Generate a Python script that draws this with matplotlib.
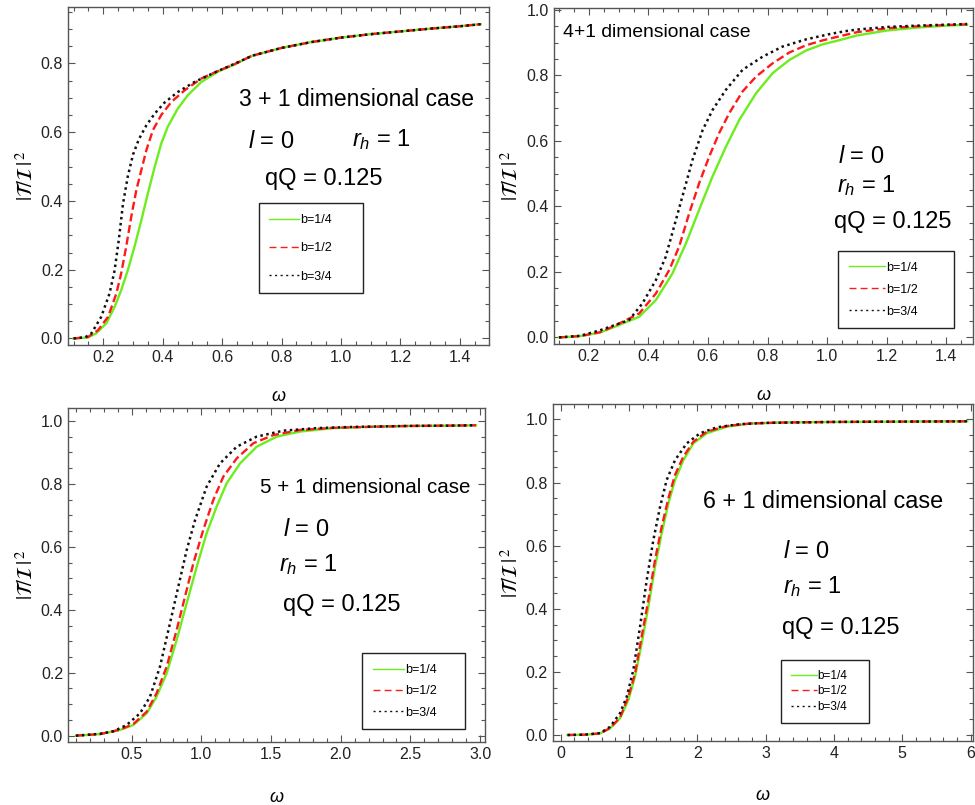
import matplotlib
matplotlib.use('Agg')
import matplotlib.pyplot as plt
from matplotlib.lines import Line2D
from matplotlib.ticker import MultipleLocator

plt.rcParams['font.family'] = ['Liberation Sans', 'DejaVu Sans']
plt.rcParams['mathtext.fontset'] = 'custom'
plt.rcParams['mathtext.rm'] = 'Liberation Sans'
plt.rcParams['mathtext.it'] = 'Liberation Sans:italic'

labels = ['b=1/4', 'b=1/2', 'b=3/4']

# 3+1 dimensions
w3_b14 = [0.10, 0.148, 0.176, 0.210, 0.238, 0.260, 0.283, 0.305, 0.328, 0.350, 0.373, 0.395, 0.417,
          0.451, 0.485, 0.530, 0.586, 0.642, 0.70, 0.80, 0.90, 1.00, 1.10, 1.20, 1.30, 1.40, 1.47]
t3_b14 = [0.0, 0.003, 0.015, 0.044, 0.092, 0.140, 0.200, 0.267, 0.344, 0.422, 0.499, 0.567, 0.616,
          0.669, 0.708, 0.746, 0.776, 0.797, 0.822, 0.845, 0.862, 0.875, 0.885, 0.893, 0.901, 0.908, 0.914]
w3_b12 = [0.10, 0.148, 0.182, 0.216, 0.244, 0.260, 0.277, 0.294, 0.311, 0.328, 0.345, 0.367, 0.395,
          0.429, 0.474, 0.530, 0.586, 0.642, 0.70, 0.80, 0.90, 1.00, 1.10, 1.20, 1.30, 1.40, 1.47]
t3_b12 = [0.0, 0.004, 0.024, 0.063, 0.131, 0.189, 0.267, 0.354, 0.431, 0.490, 0.548, 0.606, 0.650,
          0.688, 0.722, 0.756, 0.778, 0.798, 0.822, 0.845, 0.862, 0.875, 0.885, 0.893, 0.901, 0.908, 0.914]
w3_b34 = [0.10, 0.140, 0.160, 0.193, 0.221, 0.238, 0.252, 0.266, 0.282, 0.300, 0.320, 0.345, 0.373,
          0.406, 0.451, 0.507, 0.586, 0.642, 0.70, 0.80, 0.90, 1.00, 1.10, 1.20, 1.30, 1.40, 1.47]
t3_b34 = [0.0, 0.004, 0.015, 0.063, 0.131, 0.198, 0.286, 0.390, 0.470, 0.535, 0.580, 0.620, 0.654,
          0.686, 0.717, 0.746, 0.778, 0.799, 0.822, 0.845, 0.862, 0.875, 0.885, 0.893, 0.901, 0.908, 0.914]

# 4+1 dimensions
w4_b14 = [0.10, 0.171, 0.238, 0.283, 0.369, 0.425, 0.481, 0.526, 0.570, 0.615, 0.660, 0.705, 0.761,
          0.817, 0.873, 0.929, 0.985, 1.03, 1.10, 1.20, 1.30, 1.40, 1.47]
t4_b14 = [0.0, 0.004, 0.015, 0.031, 0.063, 0.114, 0.196, 0.287, 0.389, 0.491, 0.582, 0.664, 0.745,
          0.807, 0.847, 0.876, 0.895, 0.905, 0.922, 0.937, 0.946, 0.952, 0.955]
w4_b12 = [0.10, 0.171, 0.238, 0.283, 0.369, 0.425, 0.470, 0.503, 0.537, 0.570, 0.604, 0.637, 0.671,
          0.716, 0.761, 0.817, 0.873, 0.929, 0.985, 1.03, 1.10, 1.20, 1.30, 1.40, 1.47]
t4_b12 = [0.0, 0.004, 0.016, 0.034, 0.073, 0.134, 0.206, 0.277, 0.379, 0.470, 0.552, 0.623, 0.684,
          0.751, 0.796, 0.837, 0.870, 0.892, 0.907, 0.917, 0.932, 0.944, 0.950, 0.954, 0.956]
w4_b34 = [0.10, 0.171, 0.238, 0.335, 0.380, 0.425, 0.458, 0.486, 0.514, 0.548, 0.582, 0.615, 0.660,
          0.716, 0.783, 0.850, 0.929, 1.007, 1.06, 1.10, 1.20, 1.30, 1.40, 1.47]
t4_b34 = [0.0, 0.005, 0.022, 0.053, 0.104, 0.175, 0.246, 0.338, 0.430, 0.542, 0.633, 0.694, 0.756,
          0.817, 0.857, 0.888, 0.910, 0.926, 0.935, 0.940, 0.948, 0.952, 0.955, 0.957]

# 5+1 dimensions
w5_b14 = [0.10, 0.273, 0.416, 0.512, 0.608, 0.679, 0.751, 0.823, 0.895, 0.967, 1.038, 1.110, 1.182,
          1.278, 1.397, 1.541, 1.708, 1.947, 2.2, 2.5, 2.8, 2.97]
t5_b14 = [0.0, 0.005, 0.018, 0.034, 0.071, 0.124, 0.198, 0.304, 0.421, 0.537, 0.643, 0.728, 0.802,
          0.865, 0.918, 0.950, 0.966, 0.977, 0.981, 0.984, 0.985, 0.986]
w5_b12 = [0.10, 0.273, 0.416, 0.512, 0.608, 0.679, 0.751, 0.823, 0.883, 0.943, 1.014, 1.086, 1.158,
          1.254, 1.373, 1.517, 1.708, 1.947, 2.2, 2.5, 2.8, 2.97]
t5_b12 = [0.0, 0.005, 0.019, 0.037, 0.076, 0.135, 0.219, 0.336, 0.442, 0.548, 0.654, 0.749, 0.823,
          0.881, 0.929, 0.955, 0.971, 0.978, 0.981, 0.984, 0.985, 0.986]
w5_b34 = [0.10, 0.273, 0.370, 0.464, 0.560, 0.632, 0.703, 0.775, 0.835, 0.895, 0.955, 1.038, 1.134,
          1.254, 1.397, 1.589, 1.828, 2.1, 2.5, 2.8, 2.97]
t5_b34 = [0.0, 0.006, 0.014, 0.034, 0.071, 0.124, 0.219, 0.357, 0.474, 0.590, 0.685, 0.791, 0.865,
          0.918, 0.950, 0.969, 0.977, 0.981, 0.984, 0.985, 0.986]

# 6+1 dimensions
w6_b14 = [0.10, 0.35, 0.576, 0.722, 0.868, 0.990, 1.088, 1.185, 1.283, 1.380, 1.478, 1.576, 1.673,
          1.795, 1.941, 2.137, 2.429, 2.771, 3.2, 4.0, 5.0, 5.95]
t6_b14 = [0.0, 0.001, 0.005, 0.021, 0.053, 0.111, 0.185, 0.290, 0.407, 0.533, 0.639, 0.734, 0.808,
          0.871, 0.924, 0.956, 0.977, 0.987, 0.990, 0.992, 0.993, 0.994]
w6_b12 = [0.10, 0.35, 0.576, 0.722, 0.868, 0.990, 1.088, 1.185, 1.283, 1.380, 1.478, 1.576, 1.673,
          1.795, 1.941, 2.137, 2.429, 2.771, 3.2, 4.0, 5.0, 5.95]
t6_b12 = [0.0, 0.001, 0.005, 0.022, 0.055, 0.121, 0.195, 0.312, 0.428, 0.554, 0.660, 0.750, 0.824,
          0.882, 0.929, 0.961, 0.979, 0.987, 0.990, 0.992, 0.993, 0.994]
w6_b34 = [0.10, 0.35, 0.576, 0.722, 0.868, 0.966, 1.063, 1.161, 1.259, 1.356, 1.454, 1.551, 1.673,
          1.844, 2.039, 2.283, 2.624, 3.0, 4.0, 5.0, 5.95]
t6_b34 = [0.0, 0.001, 0.006, 0.026, 0.069, 0.121, 0.206, 0.343, 0.491, 0.618, 0.723, 0.808, 0.871,
          0.924, 0.956, 0.975, 0.985, 0.989, 0.992, 0.993, 0.994]

green = '#6cee1e'
red = '#ff1a1a'
black = '#111111'
frame = '#555555'

fig = plt.figure(figsize=(9.75, 8.05), dpi=100)


def panel(rect, curves, xlim, ylim, xmajor, xminor, xpad):
    ax = fig.add_axes(rect)
    (wa, ta), (wb, tb), (wc, tc) = curves
    ax.plot(wa, ta, color=green, lw=1.7)
    ax.plot(wb, tb, color=red, lw=1.7, dashes=(3.4, 1.6))
    ax.plot(wc, tc, color=black, lw=1.8, dashes=(1.0, 1.4))
    ax.set_xlim(*xlim)
    ax.set_ylim(*ylim)
    ax.xaxis.set_major_locator(MultipleLocator(xmajor))
    ax.xaxis.set_minor_locator(MultipleLocator(xminor))
    ax.yaxis.set_major_locator(MultipleLocator(0.2))
    ax.yaxis.set_minor_locator(MultipleLocator(0.05))
    ax.tick_params(which='both', direction='in', top=True, right=True, color=frame,
                   labelsize=11.5, labelcolor='#222222', width=0.8)
    ax.tick_params(which='major', length=5)
    ax.tick_params(which='minor', length=3)
    for s in ax.spines.values():
        s.set_color(frame)
        s.set_linewidth(1.0)
    ax.set_xlabel(r'$\omega$', fontsize=13, labelpad=xpad)
    ax.set_ylabel(r'$|\mathcal{T}/\mathcal{I}\,|^{\,2}$', fontsize=15,
                  math_fontfamily='stix', labelpad=3)
    return ax


def legend(ax, box, fs, spacing, hlen):
    handles = [Line2D([], [], color=green, lw=1.0),
               Line2D([], [], color=red, lw=1.0, dashes=(5, 3)),
               Line2D([], [], color=black, lw=1.0, dashes=(1.5, 2.5))]
    leg = ax.legend(handles, labels, loc='upper left', bbox_to_anchor=box, mode='expand',
                    fontsize=fs, labelspacing=spacing, handlelength=hlen, handletextpad=0.05,
                    borderaxespad=0, borderpad=0.85, fancybox=False, framealpha=1)
    leg.get_frame().set_edgecolor('#222222')
    leg.get_frame().set_linewidth(1.0)


def params(ax, xl, yl, xr, yr, xq, yq, fs=17):
    ax.text(xl, yl, r'$l$ = 0', transform=ax.transAxes, fontsize=fs, va='baseline')
    ax.text(xr, yr, r'$r_h$ = 1', transform=ax.transAxes, fontsize=fs, va='baseline')
    ax.text(xq, yq, 'qQ = 0.125', transform=ax.transAxes, fontsize=fs, va='baseline')


ax1 = panel([0.0697, 0.5714, 0.4318, 0.4199],
            [(w3_b14, t3_b14), (w3_b12, t3_b12), (w3_b34, t3_b34)],
            (0.081, 1.498), (-0.019, 0.964), 0.2, 0.05, 17)
ax1.text(0.686, 0.707, '3 + 1 dimensional case', transform=ax1.transAxes, fontsize=16.5,
         ha='center', va='baseline')
params(ax1, 0.428, 0.583, 0.674, 0.588, 0.468, 0.473)
legend(ax1, (0.453, 0.145, 0.247, 0.274), 9, 1.3, 2.4)

ax2 = panel([0.5679, 0.5727, 0.4301, 0.4174],
            [(w4_b14, t4_b14), (w4_b12, t4_b12), (w4_b34, t4_b34)],
            (0.082, 1.49), (-0.02, 1.006), 0.2, 0.05, 17)
ax2.text(0.0215, 0.913, '4+1 dimensional case', transform=ax2.transAxes, fontsize=13.9,
         va='baseline')
params(ax2, 0.679, 0.54, 0.675, 0.453, 0.669, 0.344)
legend(ax2, (0.679, 0.0565, 0.276, 0.2205), 9, 0.8, 2.9)

ax3 = panel([0.0697, 0.0779, 0.4277, 0.4149],
            [(w5_b14, t5_b14), (w5_b12, t5_b12), (w5_b34, t5_b34)],
            (0.043, 3.035), (-0.021, 1.04), 0.5, 0.1, 19)
ax3.text(0.460, 0.7455, '5 + 1 dimensional case', transform=ax3.transAxes, fontsize=14.8,
         va='baseline')
params(ax3, 0.516, 0.618, 0.507, 0.513, 0.516, 0.394)
legend(ax3, (0.706, 0.047, 0.246, 0.219), 9, 0.75, 2.5)

ax4 = panel([0.5669, 0.0795, 0.4314, 0.4183],
            [(w6_b14, t6_b14), (w6_b12, t6_b12), (w6_b34, t6_b34)],
            (-0.117, 6.04), (-0.019, 1.048), 1, 0.2, 19)
ax4.text(0.358, 0.691, '6 + 1 dimensional case', transform=ax4.transAxes, fontsize=16.8,
         va='baseline')
params(ax4, 0.547, 0.543, 0.548, 0.439, 0.544, 0.318)
legend(ax4, (0.542, 0.064, 0.211, 0.177), 8.5, 0.3, 2.2)

fig.savefig('out.png', dpi=100)
